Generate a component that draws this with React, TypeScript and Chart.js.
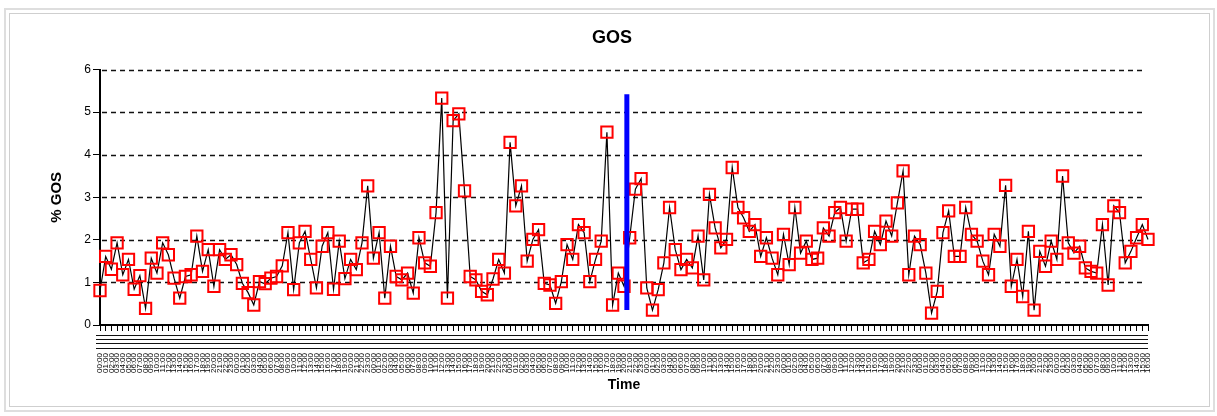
import React, { useEffect, useRef } from 'react';
import { Chart, registerables } from 'chart.js';

Chart.register(...registerables);

// ---- data ----
const gosValues: number[] = [
  0.81, 1.61, 1.31, 1.93, 1.18, 1.54, 0.84, 1.16, 0.39, 1.57,
  1.22, 1.93, 1.65, 1.10, 0.63, 1.14, 1.18, 2.09, 1.26, 1.77,
  0.91, 1.77, 1.54, 1.65, 1.42, 0.98, 0.76, 0.47, 1.02, 0.97,
  1.10, 1.14, 1.39, 2.17, 0.83, 1.93, 2.20,
  1.54, 0.87, 1.85, 2.17, 0.84, 1.97, 1.09, 1.54, 1.30, 1.93,
  3.27, 1.57, 2.17, 0.63, 1.85, 1.14, 1.06, 1.22, 0.75, 2.05,
  1.46, 1.38, 2.64, 5.33, 0.63, 4.80, 4.96, 3.15, 1.14, 1.06,
  0.79, 0.71, 1.08, 1.54, 1.22,
  4.29, 2.80, 3.27, 1.50, 2.01, 2.24, 0.98, 0.94, 0.51, 1.02,
  1.89, 1.54, 2.36, 2.17, 1.02, 1.54, 1.97, 4.53, 0.47, 1.22,
  0.91, 2.05, 3.19, 3.44, 0.87, 0.35, 0.83, 1.46, 2.76, 1.77,
  1.30, 1.54, 1.34, 2.09, 1.06, 3.07, 2.28,
  1.81, 2.01, 3.70, 2.76, 2.52, 2.20, 2.36, 1.61, 2.05, 1.57,
  1.18, 2.13, 1.42, 2.76, 1.69, 1.97, 1.54, 1.57, 2.28, 2.09,
  2.64, 2.76, 1.97, 2.72, 2.72, 1.46, 1.54, 2.20, 1.89, 2.44,
  2.09, 2.87, 3.62, 1.18, 2.09, 1.89, 1.22,
  0.28, 0.79, 2.17, 2.68, 1.61, 1.61, 2.76, 2.13, 1.97, 1.50,
  1.18, 2.13, 1.85, 3.28, 0.91, 1.54, 0.67, 2.20, 0.35, 1.73,
  1.38, 1.97, 1.54, 3.50, 1.93, 1.69, 1.85, 1.34, 1.26, 1.22,
  2.36, 0.94, 2.80, 2.64, 1.46, 1.73, 2.05, 2.36, 2.01,
];

// hourly time categories along the x axis
const timeLabels: string[] = gosValues.map((_, i) => `${String(i % 24).padStart(2, '0')}:00`);

const yMin = 0;
const yMax = 6;
const yStep = 1;
const gridValues: number[] = [1, 2, 3, 4, 5, 6];

// blue vertical marker (category position, value span)
const markerPosition = 92.5;
const markerTop = 5.42;
const markerBottom = 0.35;

const FONT = "'Liberation Sans', Arial, sans-serif";

const dashedGridPlugin = {
  id: 'dashedGrid',
  beforeDatasetsDraw(chart: any) {
    const { ctx, chartArea, scales } = chart;
    const y = scales.y;
    ctx.save();
    ctx.setLineDash([5, 4]);
    ctx.lineWidth = 1.5;
    ctx.strokeStyle = '#111';
    for (const v of gridValues) {
      const py = Math.round(y.getPixelForValue(v)) + 0.5;
      ctx.beginPath();
      ctx.moveTo(chartArea.left + 2, py);
      ctx.lineTo(chartArea.right - 5, py);
      ctx.stroke();
    }
    ctx.restore();
  },
};

const markerPlugin = {
  id: 'blueMarker',
  afterDatasetsDraw(chart: any) {
    const { ctx, scales } = chart;
    const x = scales.x.getPixelForValue(markerPosition);
    const y1 = scales.y.getPixelForValue(markerTop);
    const y2 = scales.y.getPixelForValue(markerBottom);
    ctx.save();
    ctx.strokeStyle = '#0000ff';
    ctx.lineWidth = 5;
    ctx.beginPath();
    ctx.moveTo(x, y1);
    ctx.lineTo(x, y2);
    ctx.stroke();
    ctx.restore();
  },
};

const underlinePlugin = {
  id: 'labelRules',
  afterDraw(chart: any) {
    const { ctx, chartArea, scales } = chart;
    const top = scales.x.top;
    ctx.save();
    ctx.strokeStyle = '#111';
    ctx.lineWidth = 1.2;
    for (const off of [10, 14, 18, 23]) {
      ctx.beginPath();
      ctx.moveTo(chartArea.left - 4, top + off + 0.5);
      ctx.lineTo(chartArea.right, top + off + 0.5);
      ctx.stroke();
    }
    ctx.restore();
  },
};

export default function App() {
  const canvasRef = useRef<HTMLCanvasElement | null>(null);

  useEffect(() => {
    if (!canvasRef.current) return;
    const chart = new Chart(canvasRef.current, {
      type: 'line',
      data: {
        labels: timeLabels,
        datasets: [
          {
            label: '% GOS',
            data: gosValues,
            borderColor: '#000',
            borderWidth: 1.2,
            tension: 0,
            pointStyle: 'rect',
            pointRadius: 8,
            pointBorderWidth: 2,
            pointBorderColor: '#ff0000',
            pointBackgroundColor: 'rgba(0,0,0,0)',
            clip: false as any,
          },
        ],
      },
      options: {
        animation: false,
        responsive: false,
        devicePixelRatio: 1,
        layout: { padding: { left: 40, right: 33, top: 0, bottom: 10 } },
        plugins: {
          legend: { display: false },
          tooltip: { enabled: false },
          title: {
            display: true,
            text: 'GOS',
            color: '#000',
            font: { family: FONT, size: 18, weight: 'bold' },
            padding: { top: 27, bottom: 21 },
          },
        },
        scales: {
          x: {
            type: 'category',
            offset: false,
            grid: {
              drawOnChartArea: false,
              drawTicks: true,
              tickLength: 6,
              tickColor: '#000',
              tickWidth: 1,
            },
            border: { display: true, color: '#000', width: 2 },
            ticks: {
              autoSkip: false,
              minRotation: 90,
              maxRotation: 90,
              padding: 22,
              color: '#000',
              font: { family: FONT, size: 8 },
            },
            title: {
              display: true,
              text: 'Time',
              color: '#000',
              font: { family: FONT, size: 14, weight: 'bold' },
              padding: { top: 0, bottom: 12 },
            },
            afterFit: (s: any) => {
              s.height = 81;
            },
          },
          y: {
            min: yMin,
            max: yMax,
            grid: {
              drawOnChartArea: false,
              drawTicks: true,
              tickLength: 7,
              tickColor: '#000',
            },
            border: { display: true, color: '#000', width: 2 },
            ticks: {
              stepSize: yStep,
              padding: 2,
              color: '#000',
              font: { family: FONT, size: 12 },
            },
            title: {
              display: true,
              text: '% GOS',
              color: '#000',
              font: { family: FONT, size: 15, weight: 'bold' },
              padding: { top: 8, bottom: 0 },
            },
            afterFit: (s: any) => {
              s.width = 60;
            },
          },
          yR: {
            type: 'linear',
            position: 'right',
            display: true,
            grid: { display: false, drawTicks: false },
            border: { display: false },
            ticks: { display: false },
            afterFit: (s: any) => {
              s.width = 36;
            },
          },
        },
      },
      plugins: [dashedGridPlugin, markerPlugin, underlinePlugin],
    } as any);
    return () => chart.destroy();
  }, []);

  return (
    <div
      style={{
        position: 'fixed',
        left: 0,
        top: 0,
        width: 1217,
        height: 416,
        background: '#fff',
        overflow: 'hidden',
      }}
    >
      <div
        style={{
          position: 'absolute',
          left: 4,
          top: 8,
          width: 1207,
          height: 400,
          border: '2px solid #dedede',
        }}
      />
      <div
        style={{
          position: 'absolute',
          left: 9,
          top: 13,
          width: 1199,
          height: 392,
          border: '1px solid #cfcfcf',
        }}
      />
      <canvas
        ref={canvasRef}
        width={1217}
        height={416}
        style={{ position: 'absolute', left: 0, top: 0, width: 1217, height: 416 }}
      />
    </div>
  );
}
